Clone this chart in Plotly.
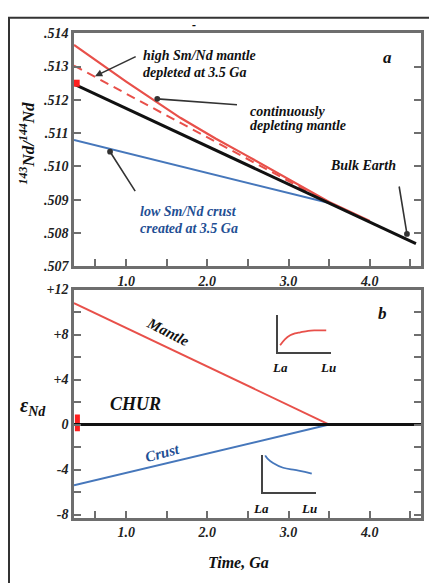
import plotly.graph_objects as go

W, H = 429, 583

# ---------------- data ----------------
# Panel a : 143Nd/144Nd versus age (Ga)
age_chur = [0.358, 4.568]
nd_chur = [0.51247, 0.50768]

age_dm = [0.358, 1.0, 1.667, 2.1, 2.5, 2.9, 3.2, 3.5, 4.0]
nd_dm = [0.51365, 0.51255, 0.51146, 0.51084, 0.51030, 0.50976, 0.50934, 0.50893, 0.50836]

age_hsm = [0.358, 3.5]
nd_hsm = [0.51303, 0.50890]

age_crust = [0.358, 3.5]
nd_crust = [0.51079, 0.50890]

present_age = [0.385]
present_nd = [0.51250]

# Panel b : epsilon Nd versus age
age_b = [0.358, 3.5]
eps_mantle = [10.8, 0.0]
eps_crust = [-5.4, 0.0]
age_chur_b = [0.358, 4.63]
eps_chur = [0.0, 0.0]
bar_age = [0.40, 0.40]
bar_eps = [-0.6, 0.9]

# Insets (schematic REE patterns, normalised)
ree_x_up = [0.04, 0.13, 0.23, 0.32, 0.42, 0.57, 0.70, 0.91]
ree_y_up = [0.18, 0.34, 0.45, 0.50, 0.53, 0.57, 0.58, 0.58]
ree_x_dn = [0.04, 0.09, 0.19, 0.38, 0.60, 0.79, 0.92]
ree_y_dn = [1.00, 0.90, 0.79, 0.66, 0.60, 0.55, 0.50]

# ticks
x_tickvals = [0.62, 1.0, 1.5, 2.0, 2.5, 3.0, 3.5, 4.0, 4.5]
x_ticktext = ["", "1.0", "", "2.0", "", "3.0", "", "4.0", ""]
ya_tickvals = [0.507, 0.508, 0.509, 0.510, 0.511, 0.512, 0.513, 0.514]
ya_ticktext = [".507", ".508", ".509", ".510", ".511", ".512", ".513", ".514"]
yb_tickvals = [-8, -6, -4, -2, 0, 2, 4, 6, 8, 10, 12]
yb_ticktext = ["-8", "", "-4", "", "0", "", "+4", "", "+8", "", "+12"]

# ---------------- styling ----------------
FONT = "Liberation Serif"
RED = "#e8504a"
BLUE = "#4677bb"
BLUE_TXT = "#1f4f94"
AXC = "#6e6e6e"


def px(x):
    return x / W


def py(y):
    return 1 - y / H


fig = go.Figure()

# panel a traces
fig.add_trace(go.Scatter(x=age_crust, y=nd_crust, mode="lines",
                         line=dict(color=BLUE, width=2), xaxis="x", yaxis="y"))
fig.add_trace(go.Scatter(x=age_hsm, y=nd_hsm, mode="lines",
                         line=dict(color=RED, width=2, dash="9px,6px"), xaxis="x", yaxis="y"))
fig.add_trace(go.Scatter(x=age_dm, y=nd_dm, mode="lines",
                         line=dict(color=RED, width=2.2), xaxis="x", yaxis="y"))
fig.add_trace(go.Scatter(x=age_chur, y=nd_chur, mode="lines",
                         line=dict(color="#111111", width=3), xaxis="x", yaxis="y"))
fig.add_trace(go.Scatter(x=present_age, y=present_nd, mode="markers", cliponaxis=False,
                         marker=dict(symbol="square", size=7, color="#ff1f1f"),
                         xaxis="x", yaxis="y"))

# panel b traces
fig.add_trace(go.Scatter(x=bar_age, y=bar_eps, mode="lines", cliponaxis=False,
                         line=dict(color="#ff1f1f", width=5), xaxis="x2", yaxis="y2"))
fig.add_trace(go.Scatter(x=age_b, y=eps_mantle, mode="lines",
                         line=dict(color=RED, width=2), xaxis="x2", yaxis="y2"))
fig.add_trace(go.Scatter(x=age_b, y=eps_crust, mode="lines",
                         line=dict(color=BLUE, width=2), xaxis="x2", yaxis="y2"))
fig.add_trace(go.Scatter(x=age_chur_b, y=eps_chur, mode="lines",
                         line=dict(color="#111111", width=3), xaxis="x2", yaxis="y2"))

# insets
fig.add_trace(go.Scatter(x=ree_x_up, y=ree_y_up, mode="lines", line_shape="spline",
                         line=dict(color=RED, width=1.8), xaxis="x3", yaxis="y3"))
fig.add_trace(go.Scatter(x=ree_x_dn, y=ree_y_dn, mode="lines", line_shape="spline",
                         line=dict(color=BLUE, width=1.8), xaxis="x4", yaxis="y4"))

tickfont = dict(family=FONT, size=14, color="#222", weight="bold", style="italic")
xrange = [0.358, 4.63]
xdom = [px(74), px(421)]

common_x = dict(range=xrange, domain=xdom, tickvals=x_tickvals, ticktext=x_ticktext,
                ticks="inside", ticklen=7, tickwidth=2, tickcolor=AXC,
                showline=True, linecolor=AXC, linewidth=2.5, mirror=True,
                showgrid=False, zeroline=False, tickfont=tickfont, fixedrange=True)
common_y = dict(ticks="inside", ticklen=7, tickwidth=2, tickcolor=AXC,
                showline=True, linecolor=AXC, linewidth=2.5, mirror="ticks",
                showgrid=False, zeroline=False, tickfont=tickfont, fixedrange=True)

inset_ax = dict(range=[0, 1], showline=True, linecolor="#444", linewidth=1.5,
                showticklabels=False, ticks="", showgrid=False, zeroline=False,
                fixedrange=True)

fig.update_layout(
    width=W, height=H,
    margin=dict(l=0, r=0, t=0, b=0),
    paper_bgcolor="white", plot_bgcolor="white",
    showlegend=False,
    xaxis=dict(anchor="y", **common_x),
    yaxis=dict(anchor="x", range=[0.507, 0.514], domain=[py(266), py(27)],
               tickvals=ya_tickvals, ticktext=ya_ticktext, **common_y),
    xaxis2=dict(anchor="y2", **common_x),
    yaxis2=dict(anchor="x2", range=[-8.26, 12], domain=[py(524), py(290)],
                tickvals=yb_tickvals, ticktext=yb_ticktext, **common_y),
    xaxis3=dict(anchor="y3", domain=[px(278), px(331)], **inset_ax),
    yaxis3=dict(anchor="x3", domain=[py(354), py(316)], **inset_ax),
    xaxis4=dict(anchor="y4", domain=[px(263), px(316)], **inset_ax),
    yaxis4=dict(anchor="x4", domain=[py(498), py(460)], **inset_ax),
)

# outer frame (only left/top edges fall inside the picture)
fig.add_shape(type="rect", xref="paper", yref="paper",
              x0=px(9), y0=py(600), x1=px(445), y1=py(11),
              line=dict(color="#333", width=2), layer="below")

ann = []


def txt(s, x, y, size=14, color="#111", xanchor="center", angle=0):
    ann.append(dict(text=s, x=px(x), y=py(y), xref="paper", yref="paper",
                    showarrow=False, xanchor=xanchor, yanchor="middle",
                    textangle=angle,
                    font=dict(family=FONT, size=size, color=color,
                              weight="bold", style="italic")))


def arrow(xh, yh, xt, yt, xr, yr, head=2):
    ann.append(dict(text="", x=xh, y=yh, ax=xt, ay=yt, xref=xr, yref=yr,
                    axref=xr, ayref=yr, showarrow=True, arrowhead=head,
                    arrowsize=0.9, arrowwidth=1.6, arrowcolor="#333"))


# panel a labels
txt("high Sm/Nd mantle", 141, 50, 14, xanchor="left")
txt("depleted at 3.5 Ga", 141, 67, 14, xanchor="left")
txt("continuously", 248, 107, 14, xanchor="left")
txt("depleting mantle", 248, 122, 14, xanchor="left")
txt("Bulk Earth", 363, 163, 14)
txt("low Sm/Nd crust", 138, 210, 14, color=BLUE_TXT, xanchor="left")
txt("created at 3.5 Ga", 138, 227, 14, color=BLUE_TXT, xanchor="left")
txt("a", 387, 52, 17)
txt("-", 194, 18, 12)
txt("<sup>143</sup>Nd/<sup>144</sup>Nd", 27, 140, 17, angle=-90)

arrow(0.617, 0.51271, 1.136, 0.51332, "x", "y", head=2)
arrow(1.383, 0.51203, 2.383, 0.51185, "x", "y", head=6)
arrow(4.457, 0.50797, 4.358, 0.50944, "x", "y", head=6)
arrow(0.802, 0.51044, 1.123, 0.50921, "x", "y", head=6)

# panel b labels
txt("b", 382, 315, 17)
txt("Mantle", 168, 334, 15, angle=27)
txt("CHUR", 135, 407, 18)
txt("Crust", 162, 458, 15, color=BLUE_TXT, angle=-15)
txt("ε<sub>Nd</sub>", 33, 410, 20)
txt("La", 280, 370, 13)
txt("Lu", 328, 370, 13)
txt("La", 261, 515, 13)
txt("Lu", 309, 515, 13)
txt("Time, Ga", 238, 570, 16)

fig.update_layout(annotations=ann)

fig.write_html("out.html")
